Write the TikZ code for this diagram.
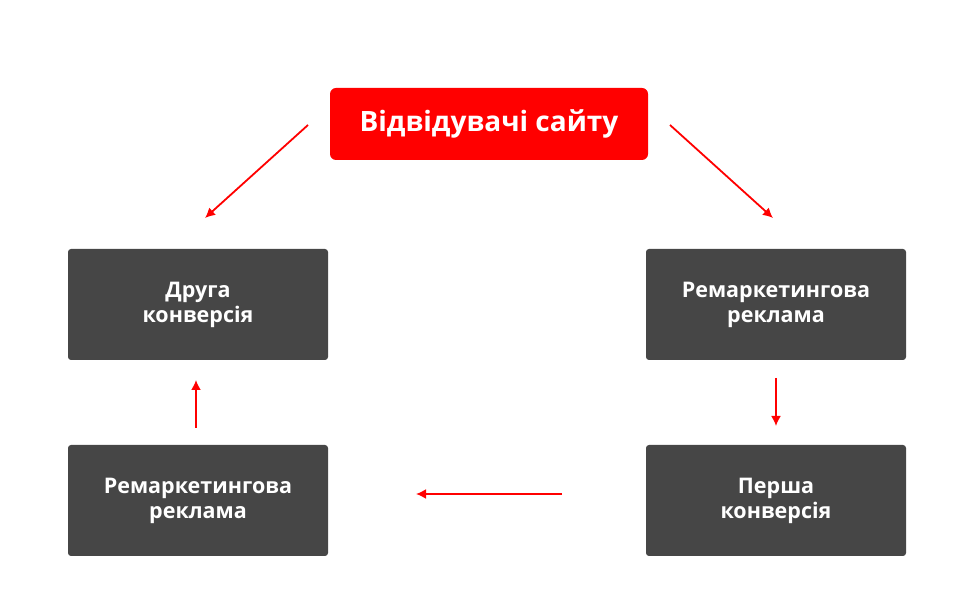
\documentclass[tikz,border=0pt]{standalone}
\usepackage{fontspec}
\setmainfont{Open Sans}
\usetikzlibrary{arrows.meta}
\definecolor{brandred}{HTML}{FF0000}
\definecolor{boxgray}{HTML}{464646}
\tikzset{
  stepbox/.style={fill=boxgray,rounded corners=3pt,minimum width=260pt,minimum height=111pt,
    text=white,font=\bfseries\fontsize{21.5}{25}\selectfont,align=center},
  topbox/.style={fill=brandred,rounded corners=6pt,minimum width=318pt,minimum height=72pt,
    text=white,font=\bfseries\fontsize{28}{30}\selectfont},
  flow/.style={draw=brandred,line width=1.8pt,-{Latex[length=10pt,width=10pt]}}
}
\begin{document}
\begin{tikzpicture}[x=1pt,y=-1pt]
  \useasboundingbox (0,0) rectangle (978,609);
  \node[topbox] (T) at (489,124) {Відвідувачі сайту};
  \node[stepbox] (L1) at (198,304.5) {Друга\\конверсія};
  \node[stepbox] (R1) at (776,304.5) {Ремаркетингова\\реклама};
  \node[stepbox] (L2) at (198,500.5) {Ремаркетингова\\реклама};
  \node[stepbox] (R2) at (776,500.5) {Перша\\конверсія};

  \coordinate (a1) at (308,125); \coordinate (a2) at (205,218);
  \coordinate (b1) at (670,125); \coordinate (b2) at (773,218);
  \coordinate (c1) at (776,378); \coordinate (c2) at (776,426);
  \coordinate (d1) at (562,494); \coordinate (d2) at (416,494);
  \coordinate (e1) at (196,428); \coordinate (e2) at (196,380);

  \draw[flow] (a1) -- (a2);
  \draw[flow] (b1) -- (b2);
  \draw[flow] (c1) -- (c2);
  \draw[flow] (d1) -- (d2);
  \draw[flow] (e1) -- (e2);
\end{tikzpicture}
\end{document}
